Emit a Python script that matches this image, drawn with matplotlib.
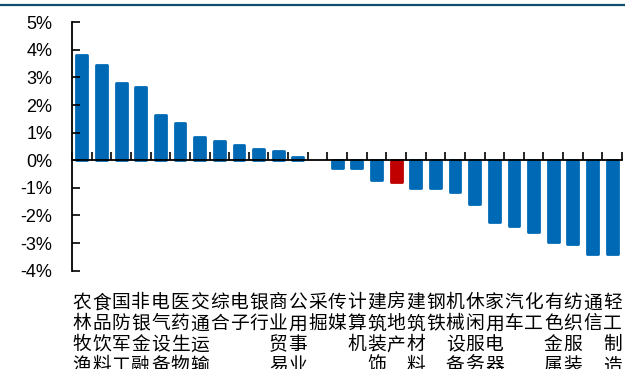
import matplotlib
matplotlib.use('Agg')
import matplotlib.pyplot as plt
from matplotlib.lines import Line2D
from matplotlib.transforms import blended_transform_factory

# 申万一级行业涨跌幅
industries = ['农林牧渔', '食品饮料', '国防军工', '非银金融', '电气设备', '医药生物', '交通运输',
              '综合', '电子', '银行', '商业贸易', '公用事业', '采掘', '传媒', '计算机', '建筑装饰',
              '房地产', '建筑材料', '钢铁', '机械设备', '休闲服务', '家用电器', '汽车', '化工',
              '有色金属', '纺织服装', '通信', '轻工制造']
changes = [3.82, 3.45, 2.81, 2.67, 1.64, 1.36, 0.86, 0.71, 0.56, 0.41, 0.34, 0.13, 0.0,
           -0.28, -0.28, -0.71, -0.78, -1.00, -1.00, -1.15, -1.58, -2.23, -2.38, -2.59,
           -2.96, -3.03, -3.39, -3.39]
highlight = '房地产'
yticks = [-4, -3, -2, -1, 0, 1, 2, 3, 4, 5]

BLUE = '#0069B6'
RED = '#C00000'

fig = plt.figure(figsize=(6.25, 3.69), dpi=100)
ax = fig.add_axes([0.1152, 0.2664, 0.88, 0.6732])

x = list(range(len(industries)))
colors = [RED if name == highlight else BLUE for name in industries]
widths = [2.0 if v != 0 else 0 for v in changes]
bars = ax.bar(x, changes, width=0.55, color=colors, edgecolor=colors, linewidth=widths)
for b in bars:
    b.set_joinstyle('round')

ax.set_xlim(-0.5, len(industries) - 0.5)
ax.set_ylim(-4, 5)
ax.set_yticks(yticks)
ax.set_yticklabels([f'{t}%' for t in yticks], fontsize=13, family='Liberation Sans')

ax.spines['top'].set_visible(False)
ax.spines['right'].set_visible(False)
ax.spines['bottom'].set_position(('data', 0))
ax.spines['left'].set_linewidth(1.3)
ax.spines['bottom'].set_linewidth(1.3)

ax.set_xticks([i + 0.5 for i in range(-1, len(industries))])
ax.set_xticklabels([])
ax.tick_params(axis='x', direction='in', length=5.5, width=1.2)
ax.tick_params(axis='y', direction='in', length=5.5, width=1.2, pad=14)

# 行业名称竖排
trans = blended_transform_factory(ax.transData, fig.transFigure)
for i, name in enumerate(industries):
    ax.text(i, 0.208, '\n'.join(name), transform=trans, ha='center', va='top',
            fontsize=13.5, linespacing=1.0,
            family=['Noto Sans CJK SC', 'DejaVu Sans'], clip_on=False)

fig.add_artist(Line2D([0, 1], [0.986, 0.986], color='#0B4F6C', linewidth=1.6,
                      transform=fig.transFigure))

fig.savefig('out.png', dpi=100)
